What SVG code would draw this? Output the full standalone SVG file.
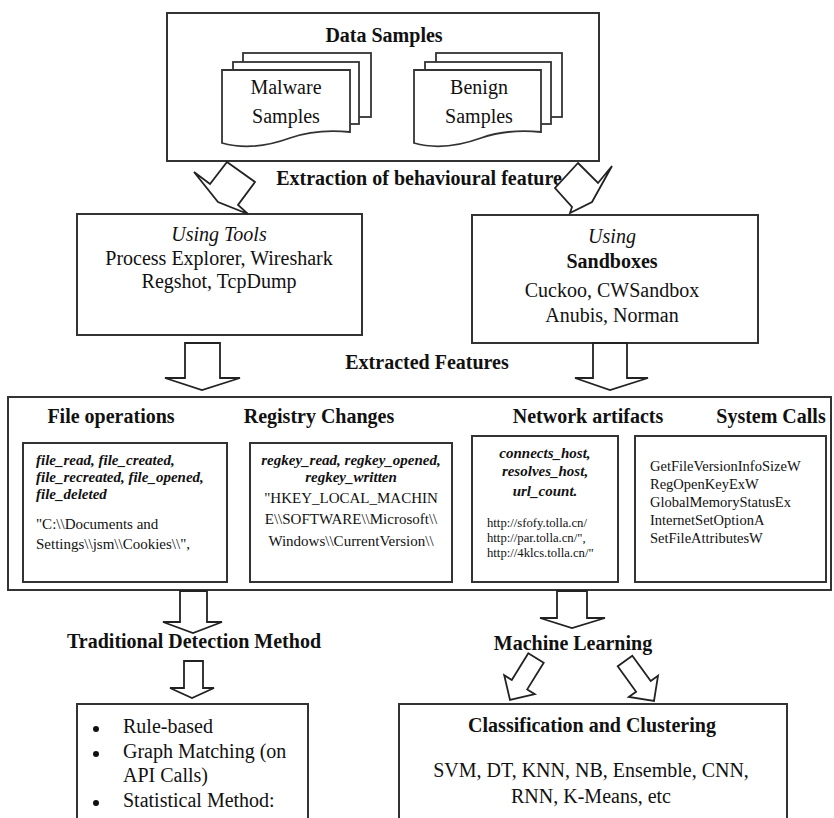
<svg xmlns="http://www.w3.org/2000/svg" width="834" height="818" viewBox="0 0 834 818">
<style>
text{font-family:"Liberation Serif","Times New Roman",serif;fill:#111;}
.h{font-size:20px;font-weight:bold;}
.t{font-size:20px;}
.i{font-style:italic;}
.bi{font-size:15px;font-weight:bold;font-style:italic;}
.s{font-size:15px;}
.sc{font-size:14.5px;}
.u{font-size:12.7px;}
.box{fill:#fff;stroke:#333;stroke-width:2;}
.pg{fill:#fff;stroke:#333;stroke-width:1.8;}
.ar{fill:#fff;stroke:#222;stroke-width:1.8;stroke-linejoin:miter;}
.m{text-anchor:middle;}
</style>
<rect width="834" height="818" fill="#fff"/>

<g id="data-samples">
<rect class="box" x="167" y="13" width="432" height="148"/>
<text class="h m" x="384" y="42">Data Samples</text>
<g id="malware-samples">
<rect class="pg" x="243" y="53" width="128" height="64"/>
<rect class="pg" x="233" y="62" width="126" height="62"/>
<path class="pg" d="M222,70 H350 V132 C330,130 310,131 290,138 C268,146 243,149 222,143 Z"/>
<text class="t m" x="286" y="94">Malware</text>
<text class="t m" x="286" y="123">Samples</text>
</g>
<g id="benign-samples">
<rect class="pg" x="436" y="53" width="126" height="64"/>
<rect class="pg" x="425" y="62" width="126" height="62"/>
<path class="pg" d="M414,70 H541 V132 C521,130 501,131 481,138 C459,146 435,149 414,143 Z"/>
<text class="t m" x="479" y="94">Benign</text>
<text class="t m" x="479" y="123">Samples</text>
</g>
</g>

<g id="label-extraction">
<text class="h m" x="419" y="185">Extraction of behavioural feature</text>
</g>

<g id="using-tools">
<rect class="box" x="77" y="214" width="285" height="121"/>
<text class="t i m" x="219" y="241">Using Tools</text>
<text class="t m" x="219" y="265">Process Explorer, Wireshark</text>
<text class="t m" x="219" y="288">Regshot, TcpDump</text>
</g>

<g id="using-sandboxes">
<rect class="box" x="472" y="215" width="286" height="128"/>
<text class="t i m" x="612" y="243">Using</text>
<text class="h m" x="612" y="268">Sandboxes</text>
<text class="t m" x="612" y="297">Cuckoo, CWSandbox</text>
<text class="t m" x="612" y="322">Anubis, Norman</text>
</g>

<g id="label-extracted">
<text class="h m" x="427" y="369">Extracted Features</text>
</g>

<g id="extracted-features">
<rect class="box" x="8" y="397" width="823" height="193"/>
<text class="h m" x="111" y="423">File operations</text>
<text class="h m" x="319" y="423">Registry Changes</text>
<text class="h m" x="588" y="423">Network artifacts</text>
<text class="h m" x="771" y="423">System Calls</text>

<g id="file-operations">
<rect class="box" x="23" y="443" width="204" height="139"/>
<text class="bi" x="36" y="465">file_read, file_created,</text>
<text class="bi" x="36" y="482">file_recreated, file_opened,</text>
<text class="bi" x="36" y="499">file_deleted</text>
<text class="s" x="36" y="529">"C:\\Documents and</text>
<text class="s" x="36" y="549">Settings\\jsm\\Cookies\\",</text>
</g>

<g id="registry-changes">
<rect class="box" x="250" y="443" width="202" height="139"/>
<text class="bi m" x="351" y="465">regkey_read, regkey_opened,</text>
<text class="bi m" x="351" y="482">regkey_written</text>
<text class="s m" x="351" y="503">"HKEY_LOCAL_MACHIN</text>
<text class="s m" x="351" y="524">E\\SOFTWARE\\Microsoft\\</text>
<text class="s m" x="351" y="546">Windows\\CurrentVersion\\</text>
</g>

<g id="network-artifacts">
<rect class="box" x="472" y="436" width="146" height="146"/>
<text class="bi m" x="545" y="458">connects_host,</text>
<text class="bi m" x="545" y="476">resolves_host,</text>
<text class="bi m" x="545" y="496">url_count.</text>
<text class="u" x="487" y="527">http://sfofy.tolla.cn/</text>
<text class="u" x="487" y="542">http://par.tolla.cn/",</text>
<text class="u" x="487" y="557">http://4klcs.tolla.cn/"</text>
</g>

<g id="system-calls">
<rect class="box" x="635" y="436" width="191" height="146"/>
<text class="sc" x="650" y="471">GetFileVersionInfoSizeW</text>
<text class="sc" x="650" y="489">RegOpenKeyExW</text>
<text class="sc" x="650" y="507">GlobalMemoryStatusEx</text>
<text class="sc" x="650" y="525">InternetSetOptionA</text>
<text class="sc" x="650" y="543">SetFileAttributesW</text>
</g>
</g>

<g id="label-traditional">
<text class="h m" x="194" y="648">Traditional Detection Method</text>
</g>

<g id="label-ml">
<text class="h m" x="573" y="650">Machine Learning</text>
</g>

<g id="traditional-methods">
<rect class="box" x="77" y="704" width="231" height="130"/>
<circle cx="96" cy="729" r="3" fill="#111"/>
<circle cx="96" cy="754" r="3" fill="#111"/>
<circle cx="96" cy="803" r="3" fill="#111"/>
<text class="t" x="123" y="733">Rule-based</text>
<text class="t" x="123" y="758">Graph Matching (on</text>
<text class="t" x="123" y="782">API Calls)</text>
<text class="t" x="123" y="807">Statistical Method:</text>
</g>

<g id="classification-clustering">
<rect class="box" x="399" y="704" width="388" height="130"/>
<text class="h m" x="592" y="732">Classification and Clustering</text>
<text class="t m" x="591" y="777">SVM, DT, KNN, NB, Ensemble, CNN,</text>
<text class="t m" x="591" y="803">RNN, K-Means, etc</text>
</g>

<g id="connectors">
<polygon class="ar" points="227,162 255,182 238,205 248,214 218,202 194,172 210,184"/>
<polygon class="ar" points="578,163 598,183 612,166 592,202 570,213 572,207 555,188"/>
<polygon class="ar" points="185,343 220,343 220,378 240,378 202,390 165,378 185,378"/>
<polygon class="ar" points="593,343 627,343 627,378 648,378 610,390 575,378 593,378"/>
<polygon class="ar" points="180,591 207,591 207,622 222,622 193,633 163,622 180,622"/>
<polygon class="ar" points="184,661 203,661 203,688 214,688 192,698 170,688 184,688"/>
<polygon class="ar" points="557,591 587,591 587,618 605,618 572,628 540,618 557,618"/>
<polygon class="ar" points="528.3,653.3 543.7,662.7 527.2,689.4 534.8,694.2 510,700 504.2,675.2 511.8,680"/>
<polygon class="ar" points="617.7,666.3 632.3,655.7 650.7,681.1 658,675.8 654,701 628.8,697 636.1,691.7"/>
</g>
</svg>
